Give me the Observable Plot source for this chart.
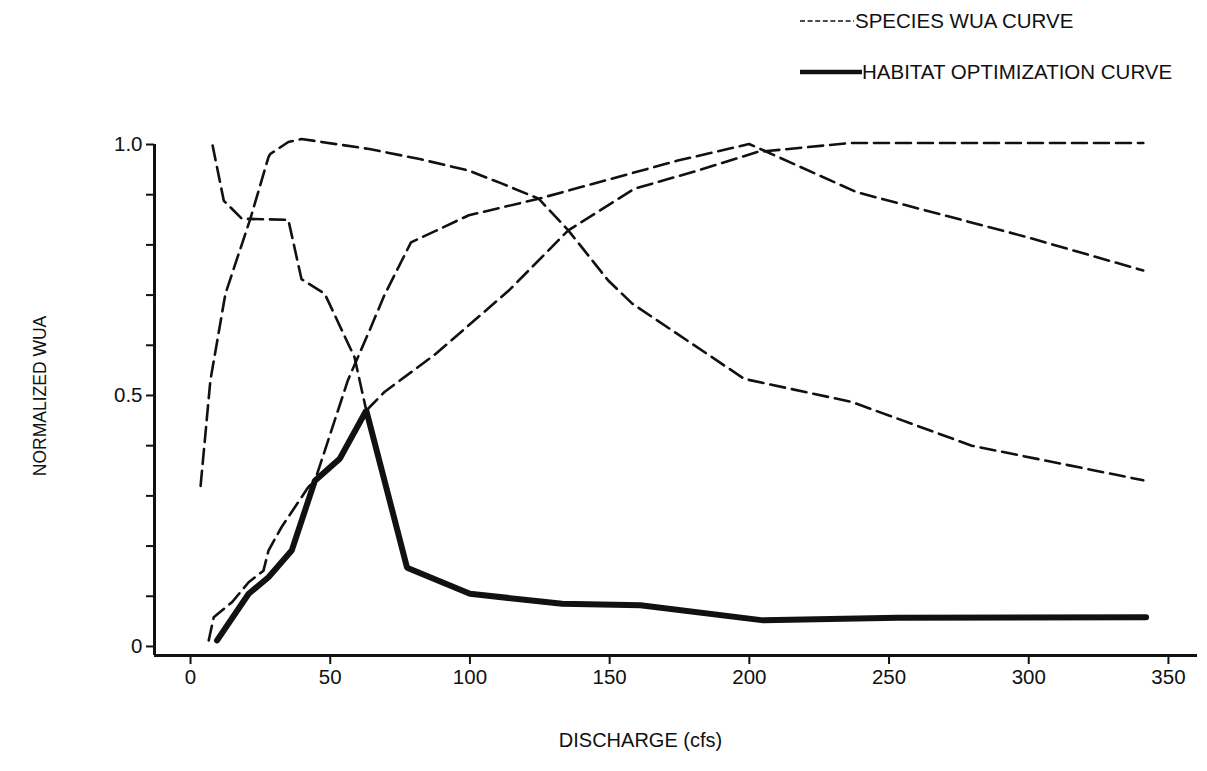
<!DOCTYPE html>
<html>
<head>
<meta charset="utf-8">
<script src="https://cdn.jsdelivr.net/npm/d3@7"></script>
<script src="https://cdn.jsdelivr.net/npm/@observablehq/plot@0.6"></script>
<style>
  html, body { margin: 0; padding: 0; background: #fff; }
  #wrap { position: relative; width: 1207px; height: 771px; font-family: "Liberation Sans", Arial, Helvetica, sans-serif; color: #111; }
  #legend { position: relative; width: 1207px; height: 100px; }
  .lg-text { position: absolute; font-size: 20.5px; line-height: 20px; white-space: nowrap; }
  #chart svg { display: block; }
</style>
</head>
<body>
<div id="wrap">
  <div id="legend">
    <svg width="1207" height="100" style="position:absolute;left:0;top:0">
      <line x1="800" y1="21" x2="854" y2="21" stroke="#111" stroke-width="1.6" stroke-dasharray="5,2.6"></line>
      <line x1="800" y1="72" x2="862" y2="72" stroke="#111" stroke-width="4.5"></line>
    </svg>
    <span class="lg-text" style="left:855px;top:11px">SPECIES WUA CURVE</span>
    <span class="lg-text" style="left:862px;top:62px">HABITAT OPTIMIZATION CURVE</span>
  </div>
  <div id="chart"></div>
</div>
<script>
// ---- Data ----
const xTicks = [0, 50, 100, 150, 200, 250, 300, 350];
const yMajorTicks = [0, 0.5, 1.0];
const yMajorLabels = ["0", "0.5", "1.0"];
const yMinorTicks = [0.1, 0.2, 0.3, 0.4, 0.6, 0.7, 0.8, 0.9];

// Species WUA curve A (rises fast, peaks ~40 cfs, declines)
const speciesA_x = [3.6, 7.1, 12.5, 21.4, 27.9, 28.5, 35, 39.7, 64, 82, 99.6, 111.5, 124.6, 135.2, 149.5, 158.1, 198.2, 236.7, 279.6, 341];
const speciesA_y = [0.32, 0.53, 0.703, 0.852, 0.975, 0.981, 1.005, 1.011, 0.991, 0.971, 0.948, 0.922, 0.892, 0.829, 0.729, 0.683, 0.533, 0.487, 0.40, 0.331];

// Species WUA curve B (starts at 1.0, steps down, then low tail)
const speciesB_x = [7.9, 11.9, 18.4, 35, 39.7, 48, 58.7, 62.9, 77.5, 100, 133, 161, 205, 253, 342];
const speciesB_y = [0.998, 0.888, 0.852, 0.85, 0.732, 0.703, 0.576, 0.47, 0.157, 0.105, 0.085, 0.082, 0.052, 0.057, 0.058];

// Species WUA curve C (gradual rise to 1.0 at ~240 cfs)
const speciesC_x = [6.5, 8.3, 14.8, 20.8, 26.1, 27.9, 32.6, 42.1, 45, 53.4, 62.9, 69.4, 87.8, 113.9, 135.2, 158.9, 181.5, 202.8, 236, 341];
const speciesC_y = [0.012, 0.058, 0.088, 0.128, 0.151, 0.191, 0.238, 0.317, 0.335, 0.374, 0.47, 0.507, 0.583, 0.709, 0.829, 0.912, 0.948, 0.985, 1.003, 1.003];

// Species WUA curve D (steep rise, peak at 200 cfs, declines)
const speciesD_x = [9.5, 20.8, 27.9, 36.2, 44.5, 56.3, 64.1, 69.4, 78.9, 99.6, 124.6, 174.4, 199.9, 205.2, 238.4, 299, 341];
const speciesD_y = [0.012, 0.105, 0.138, 0.191, 0.33, 0.53, 0.63, 0.70, 0.805, 0.859, 0.892, 0.968, 1.001, 0.988, 0.905, 0.816, 0.749];

// Habitat optimization curve (thick)
const habitat_x = [9.5, 20.8, 27.9, 36.2, 44.5, 53.4, 62.9, 77.5, 100, 133, 161, 205, 253, 342];
const habitat_y = [0.012, 0.105, 0.138, 0.191, 0.33, 0.374, 0.47, 0.157, 0.105, 0.085, 0.082, 0.052, 0.057, 0.058];

// ---- Build tables ----
const speciesSeries = [
  ["A", speciesA_x, speciesA_y],
  ["B", speciesB_x, speciesB_y],
  ["C", speciesC_x, speciesC_y],
  ["D", speciesD_x, speciesD_y]
];
const speciesRows = speciesSeries.flatMap(([name, xs, ys]) => xs.map((x, i) => ({series: name, x, y: ys[i]})));
const habitatRows = habitat_x.map((x, i) => ({x, y: habitat_y[i]}));

const xDomain = [-12.9, 360.4];
const yDomain = [-0.018, 1.0];
const fontFam = '"Liberation Sans", Arial, Helvetica, sans-serif';

const chart = Plot.plot({
  width: 1207,
  height: 671,
  marginLeft: 154,
  marginRight: 10,
  marginTop: 44,
  marginBottom: 116,
  x: {domain: xDomain},
  y: {domain: yDomain},
  style: {fontFamily: fontFam, fontSize: "20.5px", color: "#111", background: "#fff", overflow: "visible"},
  marks: [
    Plot.axisX({ticks: xTicks, tickSize: 9, tickPadding: 5, strokeWidth: 2, label: null, tickFormat: d => String(d)}),
    Plot.axisY({ticks: yMinorTicks, tickSize: 8, strokeWidth: 2, text: null, label: null}),
    Plot.axisY({ticks: yMajorTicks, tickSize: 8, tickPadding: 4, strokeWidth: 2, label: null,
      tickFormat: d => yMajorLabels[yMajorTicks.indexOf(d)]}),
    Plot.ruleX([xDomain[0]], {y1: yDomain[0], y2: yDomain[1], strokeWidth: 3, stroke: "#111"}),
    Plot.ruleY([yDomain[0]], {strokeWidth: 3, stroke: "#111"}),
    Plot.line(speciesRows, {x: "x", y: "y", z: "series", stroke: "#111", strokeWidth: 2.6, strokeDasharray: "15,7"}),
    Plot.line(habitatRows, {x: "x", y: "y", stroke: "#111", strokeWidth: 6, strokeLinejoin: "miter"}),
    Plot.text(["NORMALIZED WUA"], {frameAnchor: "left", rotate: -90, dx: -114, dy: -4, textAnchor: "middle", fontSize: 17.5, fill: "#111"}),
    Plot.text(["DISCHARGE (cfs)"], {frameAnchor: "bottom-left", dx: 486, dy: 91, textAnchor: "middle", fontSize: 20, fill: "#111"})
  ]
});
document.getElementById("chart").appendChild(chart);
</script>
</body>
</html>
